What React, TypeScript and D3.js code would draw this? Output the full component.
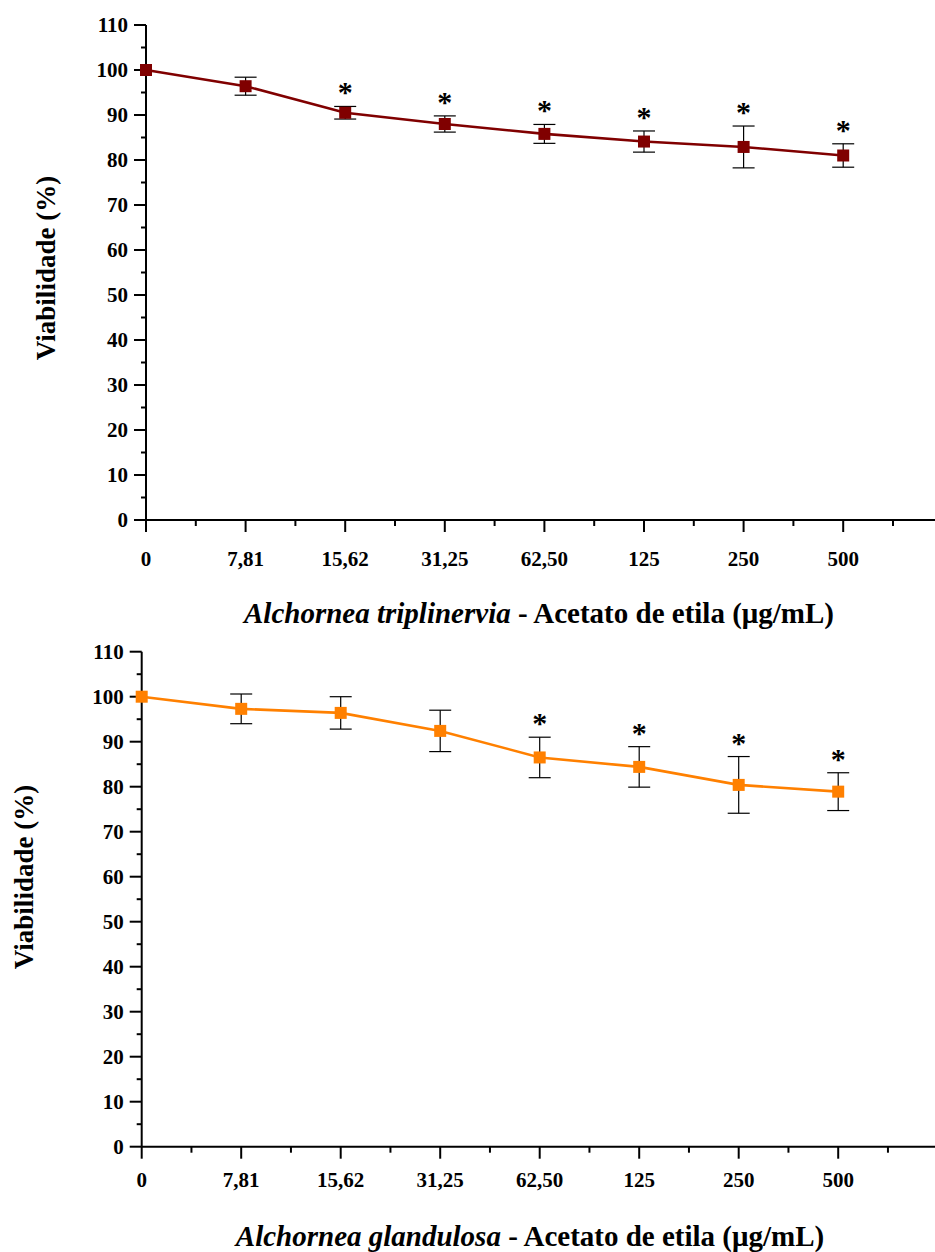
import React from "react";
import * as d3 from "d3";

const categories = ["0", "7,81", "15,62", "31,25", "62,50", "125", "250", "500"];
const yTicks = [0, 10, 20, 30, 40, 50, 60, 70, 80, 90, 100, 110];

const triplinerviaMean = [100, 96.4, 90.5, 88.0, 85.8, 84.1, 82.9, 81.0];
const triplinerviaErr = [0, 2.0, 1.4, 1.8, 2.1, 2.35, 4.65, 2.6];
const triplinerviaSig = [false, false, true, true, true, true, true, true];

const glandulosaMean = [100, 97.3, 96.4, 92.4, 86.5, 84.4, 80.4, 78.9];
const glandulosaErr = [0, 3.3, 3.6, 4.6, 4.5, 4.5, 6.3, 4.2];
const glandulosaSig = [false, false, false, false, true, true, true, true];

const FONT = "'Liberation Serif', 'Times New Roman', serif";

type PanelProps = {
  x0: number;
  y0: number;
  step: number;
  mean: number[];
  err: number[];
  sig: boolean[];
  color: string;
  species: string;
  titleX: number;
  titleY: number;
  yTitleX: number;
  yTitleY: number;
  tickLabelY: number;
};

function Panel(p: PanelProps) {
  const x = d3.scaleLinear().domain([0, 8]).range([p.x0, p.x0 + 8 * p.step]);
  const y = d3.scaleLinear().domain([0, 110]).range([p.y0, p.y0 - 110 * 4.5]);
  const idx = categories.map((_, i) => i);
  const line = d3
    .line<number>()
    .x((i) => x(i))
    .y((i) => y(p.mean[i]));
  const minorY = d3.range(5, 110, 10);
  const minorX = d3.range(0.5, 8, 1);
  return (
    <g>
      <line x1={x(0)} x2={x(0)} y1={y(0)} y2={y(110)} stroke="#000" strokeWidth={2} />
      {yTicks.map((t) => (
        <g key={"yt" + t}>
          <line x1={x(0) - 12} x2={x(0)} y1={y(t)} y2={y(t)} stroke="#000" strokeWidth={2} />
          <text
            x={x(0) - 18}
            y={y(t)}
            dy="0.35em"
            textAnchor="end"
            fontFamily={FONT}
            fontWeight="bold"
            fontSize={21}
          >
            {t}
          </text>
        </g>
      ))}
      {minorY.map((t) => (
        <line key={"ym" + t} x1={x(0) - 5} x2={x(0)} y1={y(t)} y2={y(t)} stroke="#000" strokeWidth={2} />
      ))}
      <line x1={x(0)} x2={x(8)} y1={y(0)} y2={y(0)} stroke="#000" strokeWidth={2} />
      {categories.map((c, i) => (
        <g key={"xt" + i}>
          <line x1={x(i)} x2={x(i)} y1={y(0)} y2={y(0) + 12} stroke="#000" strokeWidth={2} />
          <text
            x={x(i)}
            y={p.tickLabelY}
            textAnchor="middle"
            fontFamily={FONT}
            fontWeight="bold"
            fontSize={21}
          >
            {c}
          </text>
        </g>
      ))}
      {minorX.map((t) => (
        <line key={"xm" + t} x1={x(t)} x2={x(t)} y1={y(0)} y2={y(0) + 6} stroke="#000" strokeWidth={2} />
      ))}
      <text
        x={p.titleX}
        y={p.titleY}
        textAnchor="middle"
        fontFamily={FONT}
        fontWeight="bold"
        fontSize={29}
      >
        <tspan fontStyle="italic">{p.species}</tspan>
        <tspan>{" - Acetato de etila (\u03bcg/mL)"}</tspan>
      </text>
      <text
        transform={`translate(${p.yTitleX},${p.yTitleY}) rotate(-90)`}
        textAnchor="middle"
        fontFamily={FONT}
        fontWeight="bold"
        fontSize={27}
      >
        Viabilidade (%)
      </text>
      <path d={line(idx) || ""} fill="none" stroke={p.color} strokeWidth={2.6} />
      {idx.map((i) =>
        p.err[i] > 0 ? (
          <g key={"eb" + i} stroke="#000" strokeWidth={1.2}>
            <line x1={x(i)} x2={x(i)} y1={y(p.mean[i] - p.err[i])} y2={y(p.mean[i] + p.err[i])} />
            <line x1={x(i) - 11} x2={x(i) + 11} y1={y(p.mean[i] + p.err[i])} y2={y(p.mean[i] + p.err[i])} />
            <line x1={x(i) - 11} x2={x(i) + 11} y1={y(p.mean[i] - p.err[i])} y2={y(p.mean[i] - p.err[i])} />
          </g>
        ) : null
      )}
      {idx.map((i) => (
        <rect key={"m" + i} x={x(i) - 6} y={y(p.mean[i]) - 6} width={12} height={12} fill={p.color} />
      ))}
      {idx.map((i) =>
        p.sig[i] ? (
          <text
            key={"s" + i}
            x={x(i)}
            y={y(p.mean[i] + p.err[i]) - 4}
            textAnchor="middle"
            fontFamily={FONT}
            fontWeight="bold"
            fontSize={30}
          >
            *
          </text>
        ) : null
      )}
    </g>
  );
}

export default function App() {
  return (
    <div style={{ position: "absolute", left: 0, top: 0 }}>
      <svg width={935} height={1252} style={{ display: "block", background: "#fff" }}>
        <Panel
          x0={146}
          y0={520}
          step={99.6}
          mean={triplinerviaMean}
          err={triplinerviaErr}
          sig={triplinerviaSig}
          color="#800000"
          species="Alchornea triplinervia"
          titleX={539}
          titleY={623}
          yTitleX={55}
          yTitleY={268}
          tickLabelY={566}
        />
        <Panel
          x0={141.7}
          y0={1146.7}
          step={99.5}
          mean={glandulosaMean}
          err={glandulosaErr}
          sig={glandulosaSig}
          color="#FF8000"
          species="Alchornea glandulosa"
          titleX={530}
          titleY={1246}
          yTitleX={33}
          yTitleY={877}
          tickLabelY={1187}
        />
      </svg>
    </div>
  );
}
